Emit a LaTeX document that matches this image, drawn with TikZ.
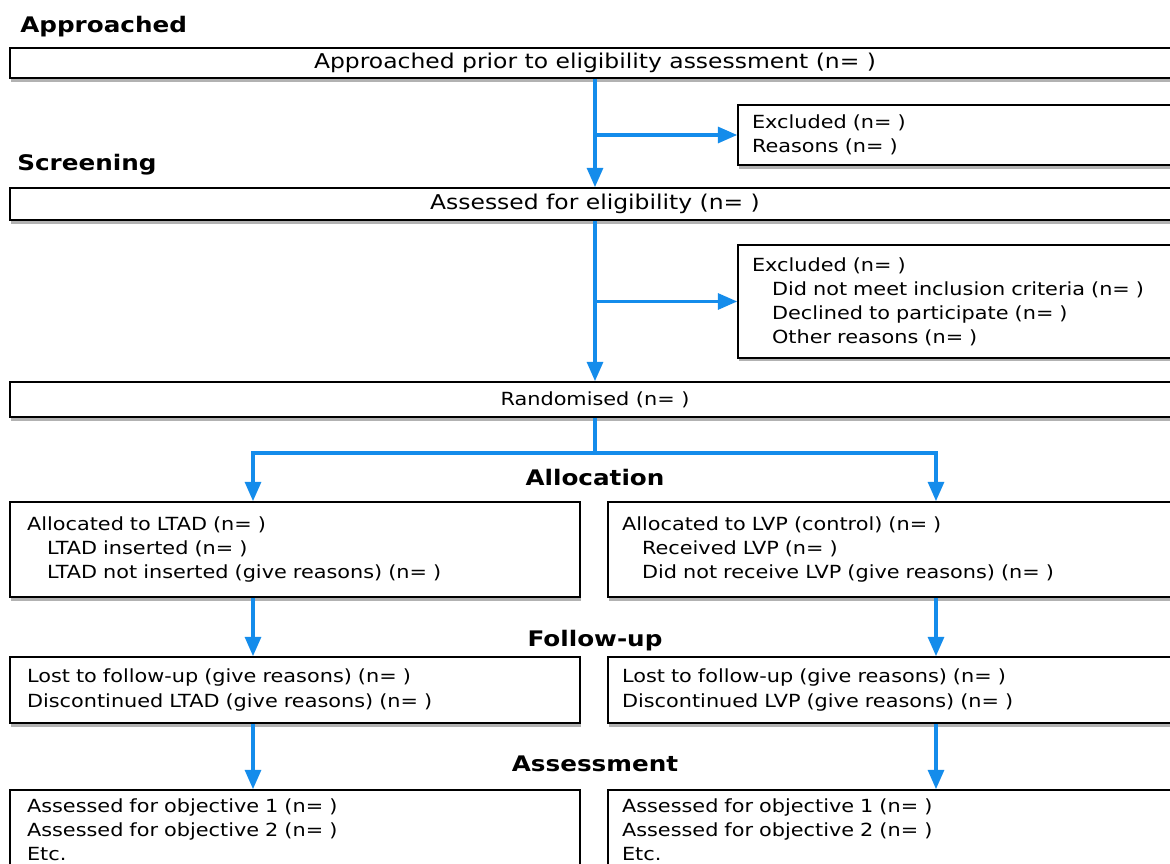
\documentclass[tikz,border=0pt]{standalone}
\usepackage{fontspec}
\setmainfont[FakeStretch=1.15]{DejaVu Sans}
\usepackage{xcolor}
\usepackage{tikz}
\usetikzlibrary{arrows.meta,shadows}
\definecolor{flowblue}{RGB}{20,140,235}

\begin{document}
\begin{tikzpicture}[x=0.02cm, y=-0.02cm,
    block/.style={rectangle, draw, line width=0.9pt, fill=white, inner ysep=0pt,
        drop shadow={shadow xshift=0.6pt, shadow yshift=-2pt, opacity=0.6},
        font=\fontsize{10.3}{13.7}\selectfont},
    widebox/.style={block, minimum width=23.4cm, font=\fontsize{11.6}{13}\selectfont},
    sidebox/.style={block, minimum width=9.24cm, text width=8.68cm, align=left, inner xsep=0.28cm},
    lbox/.style={block, minimum width=11.4cm, text width=10.72cm, align=left, inner xsep=0.34cm},
    rbox/.style={block, minimum width=11.84cm, text width=11.28cm, align=left, inner xsep=0.28cm},
    stagelabel/.style={font=\bfseries\fontsize{12.2}{14}\selectfont, inner sep=0pt},
    arrow/.style={-{Triangle[length=11pt,width=9pt]}, line width=2pt, draw=flowblue},
    link/.style={line width=2pt, draw=flowblue}
]
    \useasboundingbox (0,0) rectangle (1170,864);
    \fill[white] (0,0) rectangle (1170,864);
    \clip (0,0) rectangle (1170,864);

    \node[stagelabel, anchor=west] (hAppr) at (20,27) {Approached};
    \node[widebox, minimum height=0.6cm] (appr) at (595,63) {Approached prior to eligibility assessment (n= )};
    \node[sidebox, minimum height=1.2cm] (excl1) at (969,135) {Excluded (n= )\\Reasons (n= )};
    \node[stagelabel, anchor=west] (hScreen) at (17,165) {Screening};
    \node[widebox, minimum height=0.64cm] (screen) at (595,204) {Assessed for eligibility (n= )};
    \node[sidebox, minimum height=2.26cm] (excl2) at (969,301.5) {Excluded (n= )\\
        \hspace*{0.4cm}Did not meet inclusion criteria (n= )\\
        \hspace*{0.4cm}Declined to participate (n= )\\
        \hspace*{0.4cm}Other reasons (n= )};
    \node[block, minimum width=23.4cm, minimum height=0.7cm] (rand) at (595,399.5) {Randomised (n= )};

    \node[stagelabel] (hAlloc) at (595,478) {Allocation};
    \node[lbox, minimum height=1.9cm] (allocL) at (295,549.5) {Allocated to LTAD (n= )\\
        \hspace*{0.4cm}LTAD inserted (n= )\\
        \hspace*{0.4cm}LTAD not inserted (give reasons) (n= )};
    \node[rbox, minimum height=1.9cm] (allocR) at (904,549.5) {Allocated to LVP (control) (n= )\\
        \hspace*{0.4cm}Received LVP (n= )\\
        \hspace*{0.4cm}Did not receive LVP (give reasons) (n= )};

    \node[stagelabel] (hFollow) at (595,641) {Follow-up};
    \node[lbox, minimum height=1.32cm] (followL) at (295,690) {Lost to follow-up (give reasons) (n= )\\
        Discontinued LTAD (give reasons) (n= )};
    \node[rbox, minimum height=1.32cm] (followR) at (904,690) {Lost to follow-up (give reasons) (n= )\\
        Discontinued LVP (give reasons) (n= )};

    \node[stagelabel] (hAssess) at (595,764) {Assessment};
    \node[lbox, minimum height=1.6cm] (assessL) at (295,830) {Assessed for objective 1 (n= )\\
        Assessed for objective 2 (n= )\\
        Etc.};
    \node[rbox, minimum height=1.6cm] (assessR) at (904,830) {Assessed for objective 1 (n= )\\
        Assessed for objective 2 (n= )\\
        Etc.};

    \coordinate (split) at (595,453);
    \coordinate (lcol) at (253,453);
    \coordinate (rcol) at (936,453);

    \draw[arrow] (appr) -- (screen);
    \draw[arrow] (appr.south |- excl1) -- (excl1);
    \draw[arrow] (screen) -- (rand);
    \draw[arrow] (screen.south |- excl2) -- (excl2);
    \draw[link] (rand) -- (split);
    \draw[arrow] (split) -| (lcol |- allocL.north);
    \draw[arrow] (split) -| (rcol |- allocR.north);
    \draw[arrow] (lcol |- allocL.south) -- (lcol |- followL.north);
    \draw[arrow] (rcol |- allocR.south) -- (rcol |- followR.north);
    \draw[arrow] (lcol |- followL.south) -- (lcol |- assessL.north);
    \draw[arrow] (rcol |- followR.south) -- (rcol |- assessR.north);
\end{tikzpicture}
\end{document}
